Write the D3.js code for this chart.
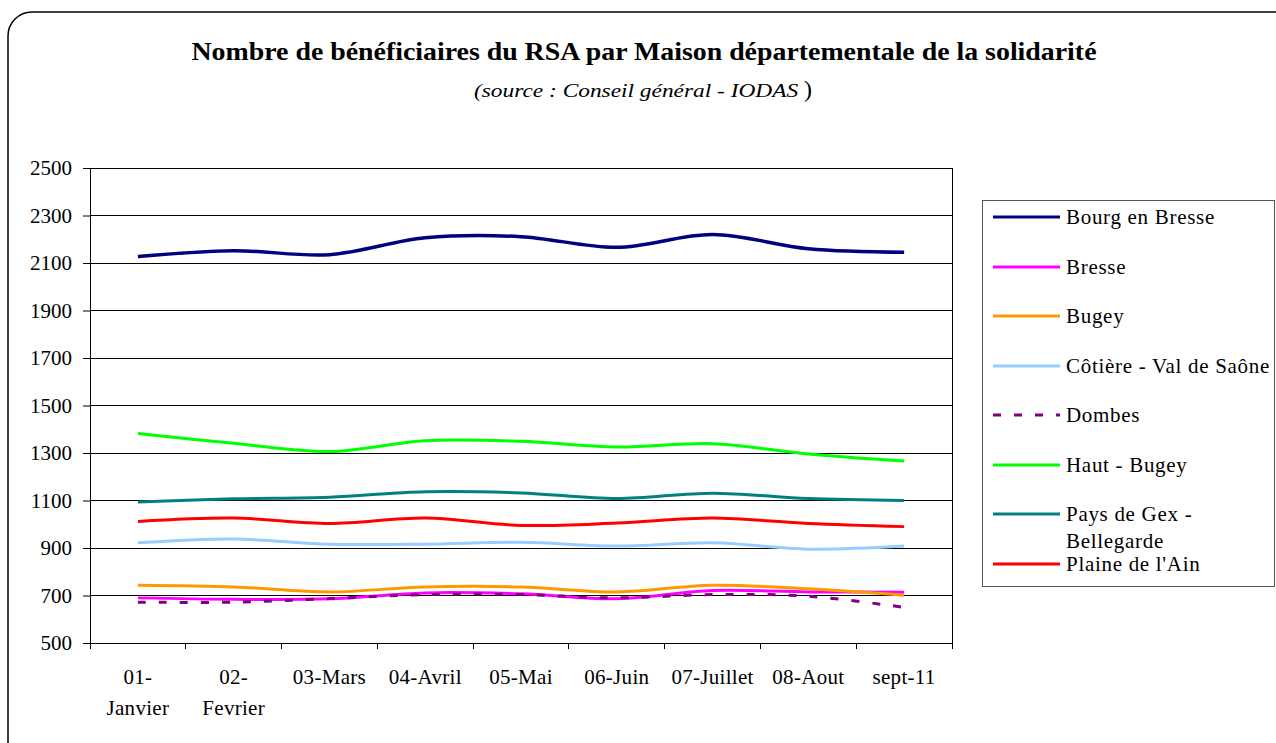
<!DOCTYPE html>
<html>
<head>
<meta charset="utf-8">
<script src="https://cdn.jsdelivr.net/npm/d3@7"></script>
<style>
  body { margin: 0; background: #fff; }
  svg text { font-family: "Liberation Serif", "Times New Roman", serif; }
</style>
</head>
<body>
<svg id="chart" width="1276" height="743"></svg>
<script>
'use strict';

const serif = '"Liberation Serif", "Times New Roman", serif';

// months (two-line labels where the original wraps)
const months = ['01-Janvier', '02-Fevrier', '03-Mars', '04-Avril', '05-Mai', '06-Juin', '07-Juillet', '08-Aout', 'sept-11'];
const monthLabels = [['01-', 'Janvier'], ['02-', 'Fevrier'], ['03-Mars'], ['04-Avril'], ['05-Mai'], ['06-Juin'], ['07-Juillet'], ['08-Aout'], ['sept-11']];
const yTicks = [500, 700, 900, 1100, 1300, 1500, 1700, 1900, 2100, 2300, 2500];

const seriesNames = ['Bourg en Bresse', 'Bresse', 'Bugey', 'Côtière - Val de Saône', 'Dombes', 'Haut - Bugey', 'Pays de Gex - Bellegarde', "Plaine de l'Ain"];

const bourgEnBresse = [2127, 2152, 2135, 2206, 2211, 2166, 2220, 2160, 2145];
const bresse        = [690, 684, 686, 711, 707, 686, 721, 715, 714];
const bugey         = [743, 736, 715, 736, 736, 715, 743, 728, 701];
const cotiere       = [922, 938, 916, 916, 924, 908, 922, 895, 908];
const dombes        = [672, 672, 687, 704, 704, 690, 704, 697, 650];
const hautBugey     = [1382, 1341, 1306, 1352, 1349, 1325, 1339, 1296, 1266];
const paysDeGex     = [1094, 1107, 1114, 1137, 1132, 1108, 1131, 1108, 1100];
const plaineDeLAin  = [1012, 1026, 1003, 1026, 995, 1005, 1026, 1003, 990];

const seriesValues = [bourgEnBresse, bresse, bugey, cotiere, dombes, hautBugey, paysDeGex, plaineDeLAin];
const seriesColors = ['#000080', '#ff00ff', '#ff9900', '#99ccff', '#800080', '#00ff00', '#008080', '#ff0000'];

const svg = d3.select('#chart');

// rounded outer frame
svg.append('rect')
  .attr('x', 8)
  .attr('y', 12)
  .attr('width', 1290)
  .attr('height', 760)
  .attr('rx', 24)
  .attr('fill', 'none')
  .attr('stroke', '#000')
  .attr('stroke-width', 1.5);

// titles
svg.append('text')
  .attr('x', 644)
  .attr('y', 60)
  .attr('text-anchor', 'middle')
  .attr('font-family', serif)
  .attr('font-size', 25)
  .attr('font-weight', 'bold')
  .attr('textLength', 905)
  .attr('lengthAdjust', 'spacingAndGlyphs')
  .text('Nombre de bénéficiaires du RSA par Maison départementale de la solidarité');

const sub = svg.append('text')
  .attr('x', 474)
  .attr('y', 97)
  .attr('font-family', serif);
sub.append('tspan')
  .attr('font-size', 19)
  .attr('font-style', 'italic')
  .attr('textLength', 330)
  .attr('lengthAdjust', 'spacingAndGlyphs')
  .text('(source : Conseil général - IODAS ');
sub.append('tspan')
  .attr('font-size', 24)
  .text(')');

// plot area
const plot = {left: 90, top: 168, right: 952, bottom: 643};

const x = d3.scaleBand()
  .domain(months)
  .range([plot.left, plot.right]);

const y = d3.scaleLinear()
  .domain([500, 2500])
  .range([plot.bottom, plot.top]);

// gridlines
svg.append('g')
  .selectAll('line')
  .data(yTicks)
  .enter()
  .append('line')
  .attr('x1', plot.left)
  .attr('x2', plot.right)
  .attr('y1', d => y(d))
  .attr('y2', d => y(d))
  .attr('stroke', '#000')
  .attr('stroke-width', 1)
  .attr('shape-rendering', 'crispEdges');

// right border of plot area
svg.append('line')
  .attr('x1', plot.right)
  .attr('x2', plot.right)
  .attr('y1', plot.top)
  .attr('y2', plot.bottom)
  .attr('stroke', '#000')
  .attr('shape-rendering', 'crispEdges');

// y axis
const yAxis = svg.append('g')
  .attr('transform', `translate(${plot.left},0)`)
  .call(d3.axisLeft(y).tickValues(yTicks).tickSize(7).tickPadding(11).tickFormat(d3.format('d')));
yAxis.attr('font-family', serif);
yAxis.selectAll('text')
  .attr('font-size', 21)
  .attr('font-family', serif)
  .attr('fill', '#000');
yAxis.select('.domain').attr('stroke', '#000').attr('shape-rendering', 'crispEdges');

// x axis: ticks at category boundaries
const xAxis = svg.append('g')
  .attr('transform', `translate(0,${plot.bottom})`);
xAxis.append('line')
  .attr('x1', plot.left)
  .attr('x2', plot.right)
  .attr('stroke', '#000')
  .attr('shape-rendering', 'crispEdges');
xAxis.selectAll('line.tick')
  .data(months.concat(['end']))
  .enter()
  .append('line')
  .attr('class', 'tick')
  .attr('x1', (d, i) => i < months.length ? x(d) : plot.right)
  .attr('x2', (d, i) => i < months.length ? x(d) : plot.right)
  .attr('y1', 0)
  .attr('y2', 6)
  .attr('stroke', '#000')
  .attr('shape-rendering', 'crispEdges');

const xLabels = xAxis.selectAll('text')
  .data(months)
  .enter()
  .append('text')
  .attr('x', d => x(d) + x.bandwidth() / 2)
  .attr('y', 41)
  .attr('text-anchor', 'middle')
  .attr('font-family', serif)
  .attr('font-size', 21)
  .attr('letter-spacing', 0.3);
xLabels.each(function(d, i){
  const lines = monthLabels[i];
  lines.forEach((l, j) => {
    d3.select(this).append('tspan')
      .attr('x', x(d) + x.bandwidth() / 2)
      .attr('dy', j === 0 ? 0 : 31)
      .text(l);
  });
});

// series lines, Excel-like smoothing
const line = d3.line()
  .x((d, i) => x(months[i]) + x.bandwidth() / 2)
  .y(d => y(d))
  .curve(d3.curveCatmullRom.alpha(0.5));

svg.append('g')
  .selectAll('path')
  .data(seriesValues)
  .enter()
  .append('path')
  .attr('d', d => line(d))
  .attr('fill', 'none')
  .attr('stroke', (d, i) => seriesColors[i])
  .attr('stroke-width', (d, i) => i === 0 ? 3.5 : 3)
  .attr('stroke-dasharray', (d, i) => seriesNames[i] === 'Dombes' ? '8,13' : null);

// legend
const legend = svg.append('g');
legend.append('rect')
  .attr('x', 982.5)
  .attr('y', 200.5)
  .attr('width', 292)
  .attr('height', 386)
  .attr('fill', '#fff')
  .attr('stroke', '#555')
  .attr('stroke-width', 1);

const legendY = [217, 267, 316, 366, 415, 465, 514, 564];
const legendLabels = [['Bourg en Bresse'], ['Bresse'], ['Bugey'], ['Côtière - Val de Saône'], ['Dombes'], ['Haut - Bugey'], ['Pays de Gex -', 'Bellegarde'], ["Plaine de l'Ain"]];

const items = legend.selectAll('g.item')
  .data(seriesNames)
  .enter()
  .append('g')
  .attr('class', 'item')
  .attr('transform', (d, i) => `translate(0,${legendY[i]})`);

items.append('line')
  .attr('x1', 993)
  .attr('x2', 1060)
  .attr('stroke', (d, i) => seriesColors[i])
  .attr('stroke-width', 3)
  .attr('stroke-dasharray', d => d === 'Dombes' ? '8,13' : null);

items.append('text')
  .attr('x', 1066)
  .attr('y', 7)
  .attr('font-family', serif)
  .attr('font-size', 21)
  .attr('letter-spacing', 0.7)
  .each(function(d, i){
    legendLabels[i].forEach((l, j) => {
      d3.select(this).append('tspan')
        .attr('x', 1066)
        .attr('dy', j === 0 ? 0 : 27)
        .text(l);
    });
  });
</script>
</body>
</html>
